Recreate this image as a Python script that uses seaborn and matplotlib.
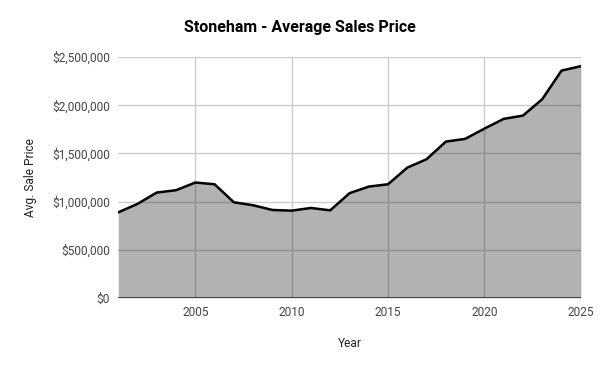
import numpy as np
import pandas as pd
import seaborn as sns
import matplotlib.pyplot as plt
from matplotlib.ticker import FuncFormatter

years = list(range(2001, 2026))
avg_price = [888000, 976000, 1094000, 1118000, 1198000, 1180000, 993000, 962000,
             913000, 906000, 934000, 909000, 1087000, 1156000, 1180000, 1353000,
             1440000, 1623000, 1651000, 1758000, 1859000, 1893000, 2063000,
             2360000, 2406000]
x_ticks = [2005, 2010, 2015, 2020, 2025]
y_ticks = [0, 500000, 1000000, 1500000, 2000000, 2500000]

df = pd.DataFrame({'Year': years, 'Price': avg_price})

sns.set_style('whitegrid')
plt.rcParams['font.family'] = ['Roboto', 'DejaVu Sans']

fig, ax = plt.subplots(figsize=(6, 3.71), dpi=100)
fig.subplots_adjust(left=0.197, right=0.968, top=0.846, bottom=0.197)

# light gray grid under a translucent black area, like the original
ax.grid(True, color='#cccccc', linewidth=1)
ax.set_axisbelow(True)
ax.fill_between(df['Year'], df['Price'], 0, color='black', alpha=0.3, linewidth=0, zorder=2)
sns.lineplot(data=df, x='Year', y='Price', color='black', linewidth=1.8, ax=ax, zorder=3)
ax.axhline(0, color='#333333', linewidth=1.2, zorder=4)

ax.set_xlim(2001, 2025)
ax.set_ylim(0, 2500000)
ax.set_xticks(x_ticks)
ax.set_yticks(y_ticks)
ax.yaxis.set_major_formatter(FuncFormatter(lambda v, p: f'${v:,.0f}'))
ax.tick_params(axis='both', length=0, labelsize=8.6, labelcolor='#444444', pad=6)

for s in ax.spines.values():
    s.set_visible(False)

ax.set_xlabel('Year', fontsize=8.6, color='#222222', labelpad=13)
ax.set_ylabel('Avg. Sale Price', fontsize=8.6, color='#222222', labelpad=11)
fig.suptitle('Stoneham - Average Sales Price', fontsize=11.5, fontweight='bold',
             color='#000000', x=0.5, y=0.945)

fig.savefig('out.png', dpi=100)
